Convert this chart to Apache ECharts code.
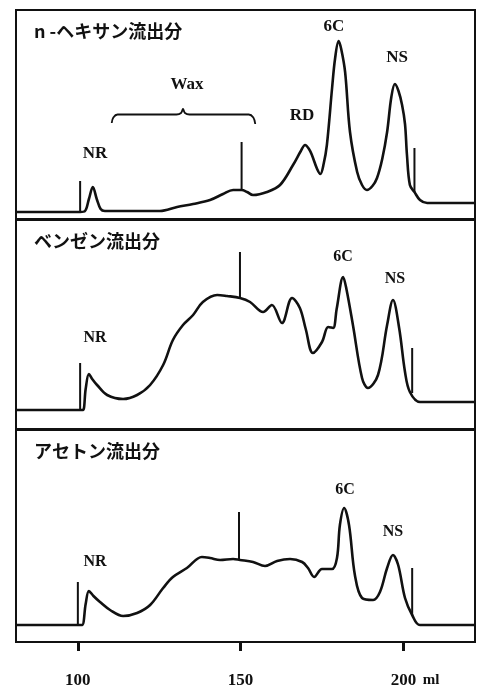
<!DOCTYPE html>
<html><head><meta charset="utf-8">
<script src="https://cdn.jsdelivr.net/npm/echarts@6/dist/echarts.min.js"></script>
<style>html,body{margin:0;padding:0;background:#fff}#c{width:481px;height:691px}</style>
</head><body><div id="c"></div>
<script>
// ---- data (elution volume in ml, detector response in arbitrary units) ----
const panelTitles = ['n -ヘキサン流出分', 'ベンゼン流出分', 'アセトン流出分'];
const tickValues = [100, 150, 200];

const hexaneX = [81.0, 100.7, 102.2, 103.4, 104.6, 105.8, 107.0, 108.3, 113.9, 125.2, 130.5, 135.4, 140.6, 144.6, 147.7, 150.3, 152.0, 153.8, 158.1, 162.1, 166.1, 168.5, 169.8, 171.0, 171.9, 173.5, 174.5, 175.5, 176.5, 178.1, 179.0, 180.1, 180.9, 182.1, 183.6, 185.8, 187.3, 188.8, 190.5, 191.9, 193.5, 195.0, 196.3, 197.4, 198.5, 199.6, 200.5, 201.1, 202.0, 203.4, 205.1, 207.3, 222.0];
const hexaneY = [7, 7, 8, 20, 32, 20, 10, 8, 8, 8, 12, 15, 19, 25, 29, 29, 27, 24, 27, 34, 54, 68, 74, 70, 64, 50, 45, 55, 74, 131, 160, 178, 170, 147, 87, 47, 34, 29, 33, 41, 60, 87, 122, 135, 128, 114, 95, 64, 34, 27, 19, 16, 16];

const benzeneX = [81.0, 100.7, 101.6, 102.4, 103.4, 104.4, 105.9, 109.0, 113.9, 118.2, 122.2, 126.2, 129.2, 132.3, 135.4, 138.4, 142.8, 145.8, 149.8, 152.9, 156.9, 159.6, 162.7, 165.8, 168.2, 170.0, 172.2, 175.0, 176.9, 178.4, 179.5, 181.5, 182.5, 184.5, 187.3, 189.1, 192.2, 195.0, 196.8, 198.7, 200.5, 202.0, 205.1, 222.0];
const benzeneY = [19, 19, 19, 40, 55, 50, 44, 34, 30, 34, 44, 64, 89, 104, 114, 127, 134, 133, 131, 127, 117, 124, 106, 131, 121, 100, 76, 87, 102, 101, 120, 152, 140, 104, 51, 41, 54, 104, 129, 101, 57, 37, 27, 27];

const acetoneX = [81.0, 100.0, 101.3, 102.4, 103.4, 104.8, 106.8, 109.9, 113.9, 118.2, 122.2, 126.2, 129.2, 133.5, 138.1, 140.6, 143.7, 147.7, 149.8, 153.8, 157.5, 161.2, 165.2, 168.9, 170.7, 172.6, 175.0, 178.1, 179.6, 180.5, 181.8, 183.3, 185.1, 187.3, 190.7, 192.8, 195.0, 196.8, 198.4, 200.5, 202.7, 205.1, 222.0];
const acetoneY = [17, 17, 17, 38, 51, 46, 40, 32, 26, 29, 37, 54, 65, 74, 85, 84, 82, 83, 82, 80, 76, 81, 83, 80, 74, 65, 73, 73, 84, 117, 134, 117, 67, 44, 42, 50, 74, 87, 77, 44, 27, 17, 17];

// fraction markers (vertical strokes on the chromatograms)
const markerX    = [[100.7, 150.3, 203.4], [100.7, 149.8, 202.7], [100.0, 149.5, 202.7]];
const markerLow  = [[7, 29, 27], [19, 131, 36], [17, 82, 27]];
const markerHigh = [[38, 77, 71], [66, 177, 81], [60, 130, 74]];

// "Wax" brace in the hexane panel
const braceX = [110.4, 110.9, 112.2, 130.3, 131.7, 132.3, 132.9, 134.3, 152.5, 153.9, 154.5];
const braceY = [96, 101.5, 104.5, 104.5, 106, 110, 106, 104.5, 104.5, 101.5, 95];

// ---- layout ----
const xs = [hexaneX, benzeneX, acetoneX];
const ys = [hexaneY, benzeneY, acetoneY];
const tops = [10, 220, 430];
const heights = [209, 209, 212];
const INK = '#111';
const serif = '"Liberation Serif", "DejaVu Serif", serif';
const cjk = '"Noto Sans CJK JP", sans-serif';

const grid = tops.map((t, i) => ({
  left: 16, right: 6, top: t, height: heights[i],
  show: true, borderColor: INK, borderWidth: 2, backgroundColor: 'transparent'
}));

const xAxis = [0, 1, 2].map(i => ({
  gridIndex: i, type: 'value', min: 81, max: 222,
  show: i === 2, offset: 10,
  axisLine: { show: false },
  splitLine: { show: false },
  axisTick: { show: true, customValues: tickValues, length: 9, lineStyle: { width: 3, color: INK } },
  axisLabel: {
    customValues: tickValues, margin: 20,
    formatter: v => v === 200 ? '{p| }{t|200}{m| ml}' : '{t|' + v + '}',
    rich: {
      t: { fontFamily: serif, fontWeight: 'bold', fontSize: 17, color: INK },
      p: { width: 26, fontSize: 15 },
      m: { width: 26, fontFamily: serif, fontWeight: 'bold', fontSize: 15, color: INK, align: 'left' }
    }
  }
}));

const yAxis = [0, 1, 2].map(i => ({ gridIndex: i, type: 'value', min: 0, max: heights[i], show: false }));

const series = [];
for (let i = 0; i < 3; i++) {
  series.push({
    type: 'line', xAxisIndex: i, yAxisIndex: i, symbol: 'none', smooth: 0.35,
    lineStyle: { color: INK, width: 2.6 },
    data: xs[i].map((x, k) => [x, ys[i][k]])
  });
  markerX[i].forEach((mx, k) => {
    series.push({
      type: 'line', xAxisIndex: i, yAxisIndex: i, symbol: 'none',
      lineStyle: { color: INK, width: 2 },
      data: [[mx, markerLow[i][k]], [mx, markerHigh[i][k]]]
    });
  });
}
series.push({
  type: 'line', xAxisIndex: 0, yAxisIndex: 0, symbol: 'none', smooth: 0.4,
  lineStyle: { color: INK, width: 1.8 },
  data: braceX.map((x, k) => [x, braceY[k]])
});

function txt(text, x, y, size, family, align) {
  return {
    type: 'text', x: x, y: y, silent: true,
    style: { text: text, fill: INK, fontSize: size, fontWeight: 'bold', fontFamily: family,
             align: align || 'center', verticalAlign: 'middle' }
  };
}

const titleY = [31, 241, 451];
const graphic = [];
panelTitles.forEach((t, i) => graphic.push(txt(t, 34, titleY[i], 18, cjk, 'left')));
graphic.push(
  txt('NR', 95, 154, 17, serif), txt('Wax', 187, 85, 17, serif), txt('RD', 302, 116, 17, serif),
  txt('6C', 334, 27, 17, serif), txt('NS', 397, 58, 17, serif),
  txt('NR', 95, 338, 16, serif), txt('6C', 343, 257, 16, serif), txt('NS', 395, 279, 16, serif),
  txt('NR', 95, 562, 16, serif), txt('6C', 345, 490, 16, serif), txt('NS', 393, 532, 16, serif)
);

const chart = echarts.init(document.getElementById('c'), null, { renderer: 'canvas' });
chart.setOption({
  animation: false,
  backgroundColor: '#fff',
  grid, xAxis, yAxis, series, graphic
});
</script></body></html>
